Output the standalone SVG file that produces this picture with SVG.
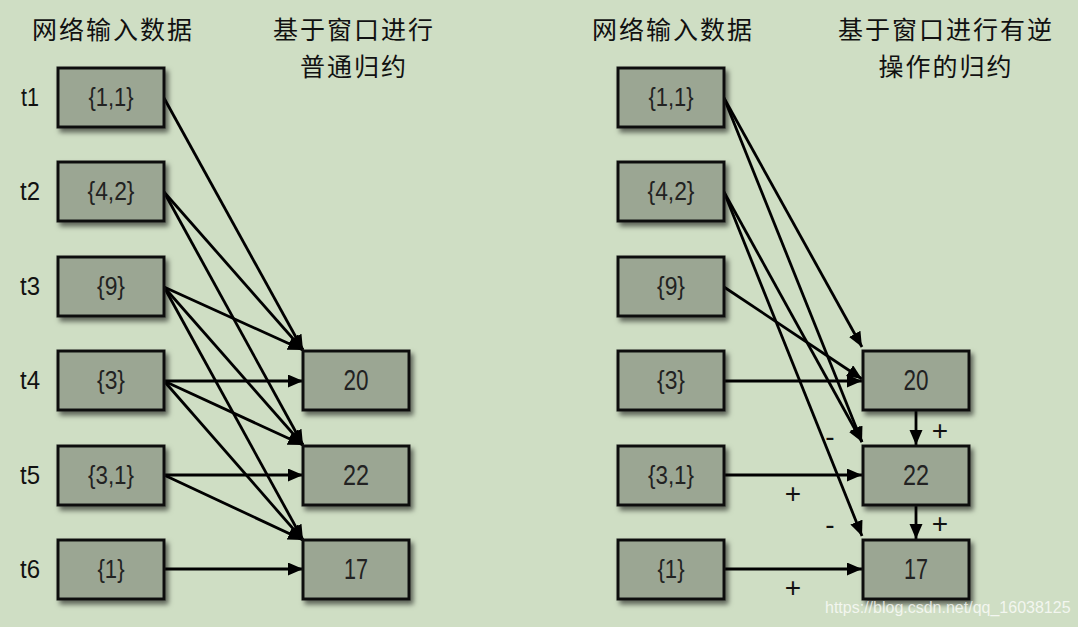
<svg xmlns="http://www.w3.org/2000/svg" width="1078" height="627" viewBox="0 0 1078 627">
<style>
.bg{fill:#cfdec4}
.box{fill:#9ba693;stroke:#111;stroke-width:3;filter:url(#sh)}
.lbl{font-family:"Liberation Sans",Arial,sans-serif;font-size:26px;fill:#222;text-anchor:middle;dominant-baseline:central}
.out{font-size:29px}
.t{font-family:"Liberation Sans",Arial,sans-serif;font-size:25px;fill:#111;text-anchor:middle;dominant-baseline:central}
.title{font-family:"Noto Sans CJK SC","Noto Sans CJK JP",sans-serif;font-size:25px;letter-spacing:2px;fill:#111;text-anchor:middle}
.ln{stroke:#000;stroke-width:2.8;fill:none;marker-end:url(#ah)}
.sg{font-family:"Liberation Sans",Arial,sans-serif;font-size:28px;fill:#111;text-anchor:middle;dominant-baseline:central}
.wm{font-family:"Liberation Sans",Arial,sans-serif;font-size:16px;fill:#ffffff;fill-opacity:0.75}
</style>
<defs>
<filter id="sh" x="-20%" y="-20%" width="150%" height="160%">
<feDropShadow dx="3" dy="4" stdDeviation="2.5" flood-color="#000" flood-opacity="0.55"/>
</filter>
<marker id="ah" markerUnits="userSpaceOnUse" markerWidth="16" markerHeight="14" refX="15" refY="6.5" orient="auto">
<path d="M0,0 L15,6.5 L0,13 Z" fill="#000"/>
</marker>
</defs>
<rect class="bg" x="0" y="0" width="1078" height="627"/>

<g id="titles">
<text class="title" x="113" y="39">网络输入数据</text>
<text class="title" x="354" y="39">基于窗口进行</text>
<text class="title" x="354" y="76">普通归约</text>
<text class="title" x="673" y="39">网络输入数据</text>
<text class="title" x="946" y="39">基于窗口进行有逆</text>
<text class="title" x="946" y="76">操作的归约</text>
</g>

<g id="time-labels">
<text class="t" x="30" y="97" textLength="18" lengthAdjust="spacingAndGlyphs">t1</text>
<text class="t" x="30" y="191" textLength="20" lengthAdjust="spacingAndGlyphs">t2</text>
<text class="t" x="30" y="286" textLength="20" lengthAdjust="spacingAndGlyphs">t3</text>
<text class="t" x="30" y="380" textLength="20" lengthAdjust="spacingAndGlyphs">t4</text>
<text class="t" x="30" y="475" textLength="20" lengthAdjust="spacingAndGlyphs">t5</text>
<text class="t" x="30" y="569" textLength="20" lengthAdjust="spacingAndGlyphs">t6</text>
</g>

<g id="connectors">
<!-- left -->
<line class="ln" x1="164" y1="98" x2="303" y2="350"/>
<line class="ln" x1="164" y1="192" x2="303" y2="350"/>
<line class="ln" x1="164" y1="192" x2="303" y2="445"/>
<line class="ln" x1="164" y1="287" x2="303" y2="350"/>
<line class="ln" x1="164" y1="287" x2="303" y2="445"/>
<line class="ln" x1="164" y1="287" x2="303" y2="540"/>
<line class="ln" x1="164" y1="381" x2="303" y2="381"/>
<line class="ln" x1="164" y1="381" x2="303" y2="445"/>
<line class="ln" x1="164" y1="381" x2="303" y2="540"/>
<line class="ln" x1="164" y1="475" x2="303" y2="475"/>
<line class="ln" x1="164" y1="475" x2="303" y2="540"/>
<line class="ln" x1="164" y1="569" x2="303" y2="569"/>
<!-- right -->
<line class="ln" x1="724" y1="98" x2="862" y2="347"/>
<line class="ln" x1="724" y1="98" x2="862" y2="442"/>
<line class="ln" x1="724" y1="192" x2="862" y2="442"/>
<line class="ln" x1="724" y1="192" x2="862" y2="536"/>
<line class="ln" x1="724" y1="287" x2="862" y2="379"/>
<line class="ln" x1="724" y1="381" x2="862" y2="381"/>
<line class="ln" x1="724" y1="475" x2="862" y2="475"/>
<line class="ln" x1="724" y1="569" x2="862" y2="569"/>
<line class="ln" x1="916" y1="411" x2="916" y2="445"/>
<line class="ln" x1="916" y1="505" x2="916" y2="539"/>
<text class="sg" x="830" y="436">-</text>
<text class="sg" x="793" y="493">+</text>
<text class="sg" x="830" y="524">-</text>
<text class="sg" x="793" y="587">+</text>
<text class="sg" x="940" y="430">+</text>
<text class="sg" x="940" y="523">+</text>
</g>

<g id="L-t1"><rect class="box" x="58" y="68" width="106" height="59"/><text class="lbl" x="111" y="97" textLength="45" lengthAdjust="spacingAndGlyphs">{1,1}</text></g>
<g id="L-t2"><rect class="box" x="58" y="162" width="106" height="59"/><text class="lbl" x="111" y="191" textLength="47" lengthAdjust="spacingAndGlyphs">{4,2}</text></g>
<g id="L-t3"><rect class="box" x="58" y="257" width="106" height="59"/><text class="lbl" x="111" y="286" textLength="28" lengthAdjust="spacingAndGlyphs">{9}</text></g>
<g id="L-t4"><rect class="box" x="58" y="351" width="106" height="59"/><text class="lbl" x="111" y="380" textLength="28" lengthAdjust="spacingAndGlyphs">{3}</text></g>
<g id="L-t5"><rect class="box" x="58" y="446" width="106" height="59"/><text class="lbl" x="111" y="475" textLength="46" lengthAdjust="spacingAndGlyphs">{3,1}</text></g>
<g id="L-t6"><rect class="box" x="58" y="540" width="106" height="59"/><text class="lbl" x="111" y="569" textLength="27" lengthAdjust="spacingAndGlyphs">{1}</text></g>

<g id="L-r20"><rect class="box" x="303" y="351" width="106" height="59"/><text class="lbl out" x="356" y="380" textLength="25" lengthAdjust="spacingAndGlyphs">20</text></g>
<g id="L-r22"><rect class="box" x="303" y="446" width="106" height="59"/><text class="lbl out" x="356" y="475" textLength="26" lengthAdjust="spacingAndGlyphs">22</text></g>
<g id="L-r17"><rect class="box" x="303" y="540" width="106" height="59"/><text class="lbl out" x="356" y="569" textLength="24" lengthAdjust="spacingAndGlyphs">17</text></g>

<g id="R-t1"><rect class="box" x="618" y="68" width="106" height="59"/><text class="lbl" x="671" y="97" textLength="45" lengthAdjust="spacingAndGlyphs">{1,1}</text></g>
<g id="R-t2"><rect class="box" x="618" y="162" width="106" height="59"/><text class="lbl" x="671" y="191" textLength="47" lengthAdjust="spacingAndGlyphs">{4,2}</text></g>
<g id="R-t3"><rect class="box" x="618" y="257" width="106" height="59"/><text class="lbl" x="671" y="286" textLength="28" lengthAdjust="spacingAndGlyphs">{9}</text></g>
<g id="R-t4"><rect class="box" x="618" y="351" width="106" height="59"/><text class="lbl" x="671" y="380" textLength="28" lengthAdjust="spacingAndGlyphs">{3}</text></g>
<g id="R-t5"><rect class="box" x="618" y="446" width="106" height="59"/><text class="lbl" x="671" y="475" textLength="46" lengthAdjust="spacingAndGlyphs">{3,1}</text></g>
<g id="R-t6"><rect class="box" x="618" y="540" width="106" height="59"/><text class="lbl" x="671" y="569" textLength="27" lengthAdjust="spacingAndGlyphs">{1}</text></g>

<g id="R-r20"><rect class="box" x="863" y="351" width="106" height="59"/><text class="lbl out" x="916" y="380" textLength="25" lengthAdjust="spacingAndGlyphs">20</text></g>
<g id="R-r22"><rect class="box" x="863" y="446" width="106" height="59"/><text class="lbl out" x="916" y="475" textLength="26" lengthAdjust="spacingAndGlyphs">22</text></g>
<g id="R-r17"><rect class="box" x="863" y="540" width="106" height="59"/><text class="lbl out" x="916" y="569" textLength="24" lengthAdjust="spacingAndGlyphs">17</text></g>

<text class="wm" x="825" y="613">https://blog.csdn.net/qq_16038125</text>
</svg>
